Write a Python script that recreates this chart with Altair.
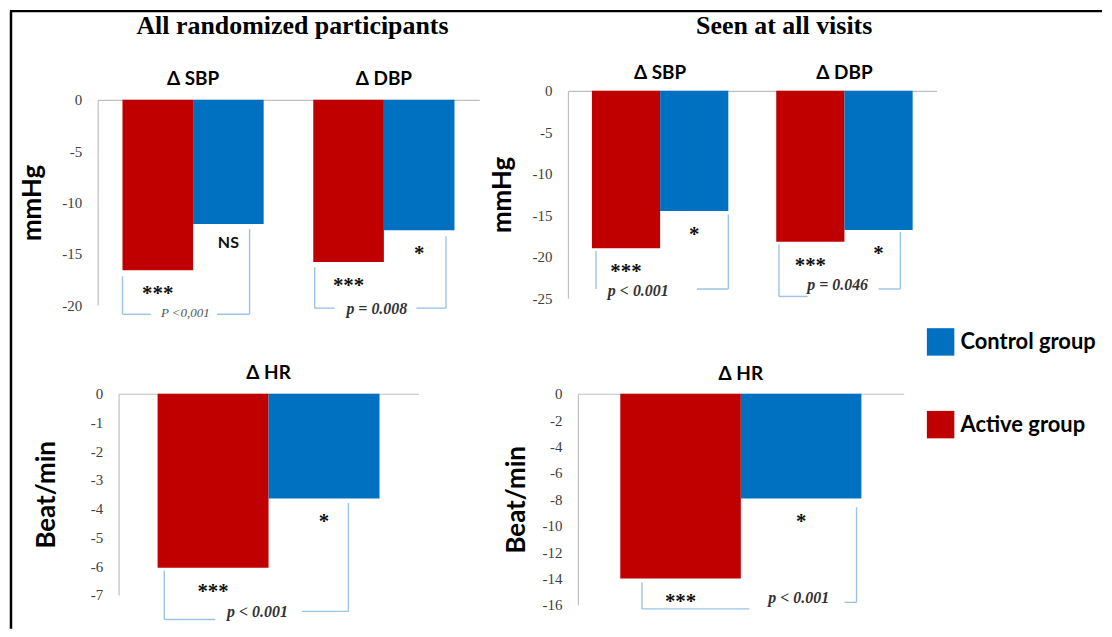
import altair as alt
import pandas as pd

SANS = "Lato"
SERIF = "Liberation Serif"
RED = "#C00000"
BLUE = "#0070C0"
BRACKET = "#9DC3E6"

groups = ["Active group", "Control group"]
legend_order = ["Control group", "Active group"]

measures_bp = ["Δ SBP", "Δ DBP"]
measures_hr = ["Δ HR"]

all_bp_active = [-16.6, -15.8]
all_bp_control = [-12.1, -12.7]
all_bp_sig_active = ["***", "***"]
all_bp_sig_control = ["NS", "*"]

seen_bp_active = [-19.0, -18.2]
seen_bp_control = [-14.5, -16.8]
seen_bp_sig_active = ["***", "***"]
seen_bp_sig_control = ["*", "*"]

all_hr_active = [-6.05]
all_hr_control = [-3.64]
seen_hr_active = [-14.0]
seen_hr_control = [-7.94]
hr_sig_active = ["***"]
hr_sig_control = ["*"]

ticks_all_bp = [0, -5, -10, -15, -20]
ticks_seen_bp = [0, -5, -10, -15, -20, -25]
ticks_all_hr = [0, -1, -2, -3, -4, -5, -6, -7]
ticks_seen_hr = [0, -2, -4, -6, -8, -10, -12, -14, -16]

# significance brackets (value units on y, fraction of the group band on x)
brackets_all_bp = [
    dict(measure="Δ SBP", fL=0.0, fR=0.90, yLt=-17.2, yLb=-20.9, yRt=-12.6, yRb=-20.9,
         g1=0.20, g2=0.67, fT=0.445, yT=-20.75, label="P <0,001", plain=True),
    dict(measure="Δ DBP", fL=0.01, fR=0.94, yLt=-16.3, yLb=-20.3, yRt=-13.3, yRb=-20.3,
         g1=0.15, g2=0.73, fT=0.45, yT=-20.4, label="p = 0.008", plain=False),
]
brackets_seen_bp = [
    dict(measure="Δ SBP", fL=0.03, fR=1.0, yLt=-19.3, yLb=-23.9, yRt=-14.9, yRb=-23.9,
         g1=0.03, g2=0.77, fT=0.34, yT=-24.1, label="p < 0.001", plain=False),
    dict(measure="Δ DBP", fL=0.02, fR=0.91, yLt=-18.5, yLb=-24.8, yRt=-17.0, yRb=-23.9,
         g1=0.23, g2=0.75, fT=0.45, yT=-23.4, label="p = 0.046", plain=False),
]
brackets_all_hr = [
    dict(measure="Δ HR", fL=0.03, fR=0.86, yLt=-6.15, yLb=-7.85, yRt=-3.8, yRb=-7.57,
         g1=0.26, g2=0.65, fT=0.45, yT=-7.6, label="p < 0.001", plain=False),
]
brackets_seen_hr = [
    dict(measure="Δ HR", fL=0.09, fR=0.98, yLt=-14.3, yLb=-16.3, yRt=-8.6, yRb=-15.8,
         g1=0.535, g2=0.93, fT=0.74, yT=-15.5, label="p < 0.001", plain=False),
]


def panel(measures, act, ctl, sig_a, sig_c, ymin, yticks, ytitle, width, height,
          brackets, title=None, title_dx=0, title_offset=26, x_left=0, y_top=0,
          label_padding=10, title_padding=14, border=False):
    df = pd.DataFrame({
        "measure": list(measures) * 2,
        "group": [groups[0]] * len(measures) + [groups[1]] * len(measures),
        "value": list(act) + list(ctl),
        "sig": list(sig_a) + list(sig_c),
    })
    xscale = alt.Scale(domain=list(measures), paddingInner=0.26, paddingOuter=0.13,
                       range=[x_left, width])
    xaxis = alt.Axis(orient="top", title=None, ticks=False, labelAngle=0, labelFont=SANS,
                     labelFontWeight="bold", labelFontSize=19, labelColor="black",
                     labelPadding=label_padding, domainColor="#BFBFBF", domainWidth=1.2,
                     offset=-y_top)
    yscale = alt.Scale(domain=[ymin, 0], nice=False, zero=False, range=[height, y_top])
    yaxis = alt.Axis(values=yticks, title=ytitle, grid=False, ticks=False, labelFont=SERIF,
                     labelFontSize=15, labelColor="#404040", labelPadding=16,
                     labelExpr="replace(datum.label, '\u2212', '-')",
                     domainColor="#BFBFBF", domainWidth=1.2, titleFont=SANS,
                     titleFontWeight="bold", titleFontSize=26, titleColor="black",
                     titlePadding=title_padding, offset=-x_left)

    def X(bp=None):
        if bp is None:
            return alt.X("measure:N", scale=xscale, axis=xaxis)
        return alt.X("measure:N", scale=xscale, axis=xaxis, bandPosition=bp)

    def Y(field):
        return alt.Y(f"{field}:Q", scale=yscale, axis=yaxis)

    xo = alt.XOffset("group:N", sort=groups,
                     scale=alt.Scale(domain=groups, paddingInner=0, paddingOuter=0))

    base = alt.Chart(df)
    bars = base.mark_bar().encode(
        x=X(), xOffset=xo, y=Y("value"),
        color=alt.Color("group:N", scale=alt.Scale(domain=legend_order, range=[BLUE, RED]),
                        legend=alt.Legend(title=None)),
    )
    stars = base.mark_text(font=SERIF, fontWeight="bold", fontSize=21, color="#111",
                           baseline="middle", dy=24).encode(
        x=X(), xOffset=xo, y=Y("value"), text="sig:N"
    ).transform_filter(alt.datum.sig != "NS")
    ns = base.mark_text(font=SANS, fontWeight="bold", fontSize=16, color="#111",
                        baseline="middle", dy=19).encode(
        x=X(), xOffset=xo, y=Y("value"), text="sig:N"
    ).transform_filter(alt.datum.sig == "NS")

    layers = [bars, stars, ns]
    for b in brackets:
        bd = pd.DataFrame([b])
        bc = alt.Chart(bd)
        rule = dict(color=BRACKET, strokeWidth=1.4)
        layers.append(bc.mark_rule(**rule).encode(x=X(b["fL"]), y=Y("yLt"), y2="yLb:Q"))
        layers.append(bc.mark_rule(**rule).encode(x=X(b["fR"]), y=Y("yRt"), y2="yRb:Q"))
        if b["g1"] > b["fL"]:
            layers.append(bc.mark_rule(**rule).encode(
                x=X(b["fL"]), x2=alt.X2("measure:N", bandPosition=b["g1"]), y=Y("yLb")))
        layers.append(bc.mark_rule(**rule).encode(
            x=X(b["g2"]), x2=alt.X2("measure:N", bandPosition=b["fR"]), y=Y("yRb")))
        if b["plain"]:
            tmark = bc.mark_text(font=SERIF, fontStyle="italic", fontSize=13, color="#555",
                                 baseline="middle")
        else:
            tmark = bc.mark_text(font=SERIF, fontStyle="italic", fontWeight="bold",
                                 fontSize=16, color="#333", baseline="middle")
        layers.append(tmark.encode(x=X(b["fT"]), y=Y("yT"), text="label:N"))

    if border:
        bdf = pd.DataFrame({"d": [0]})
        layers.append(alt.Chart(bdf).mark_rule(color="black", strokeWidth=2.5).encode(
            x=alt.value(-87), y=alt.value(-384), y2=alt.value(236)))
        layers.append(alt.Chart(bdf).mark_rule(color="black", strokeWidth=2.5).encode(
            x=alt.value(-88), x2=alt.value(1008), y=alt.value(-384)))

    ch = alt.layer(*layers).properties(width=width, height=height)
    if title:
        ch = ch.properties(title=alt.TitleParams(
            title, font=SERIF, fontSize=26, fontWeight="bold", color="black",
            dx=title_dx, offset=title_offset, anchor="middle"))
    return ch


tl = panel(measures_bp, all_bp_active, all_bp_control, all_bp_sig_active, all_bp_sig_control,
           -20, ticks_all_bp, "mmHg", 383, 215, brackets_all_bp,
           title="All randomized participants", title_dx=4, title_offset=31,
           y_top=9, label_padding=11, title_padding=16)
tr = panel(measures_bp, seen_bp_active, seen_bp_control, seen_bp_sig_active, seen_bp_sig_control,
           -25, ticks_seen_bp, "mmHg", 370, 208, brackets_seen_bp,
           title="Seen at all visits", title_dx=32, title_offset=25, label_padding=8,
           title_padding=17)
bl = panel(measures_hr, all_hr_active, all_hr_control, hr_sig_active, hr_sig_control,
           -7, ticks_all_hr, "Beat/min", 322, 202, brackets_all_hr,
           x_left=21, label_padding=11, title_padding=31, border=True)
br = panel(measures_hr, seen_hr_active, seen_hr_control, hr_sig_active, hr_sig_control,
           -16, ticks_seen_hr, "Beat/min", 337, 212, brackets_seen_hr,
           x_left=10, label_padding=10, title_padding=13)

chart = alt.concat(tl, tr, bl, br, columns=2, spacing=89, bounds="flush").resolve_scale(
    xOffset="independent"
).properties(
    padding=0
).configure_view(stroke=None).configure_legend(
    orient="none", legendX=832, legendY=238, symbolType="square", symbolSize=760,
    symbolStrokeWidth=0, labelFont=SANS, labelFontWeight="bold", labelFontSize=22,
    labelColor="black", rowPadding=55, labelOffset=6, padding=0
)

chart.save("out.html", embed_options={"renderer": "svg", "actions": False})
